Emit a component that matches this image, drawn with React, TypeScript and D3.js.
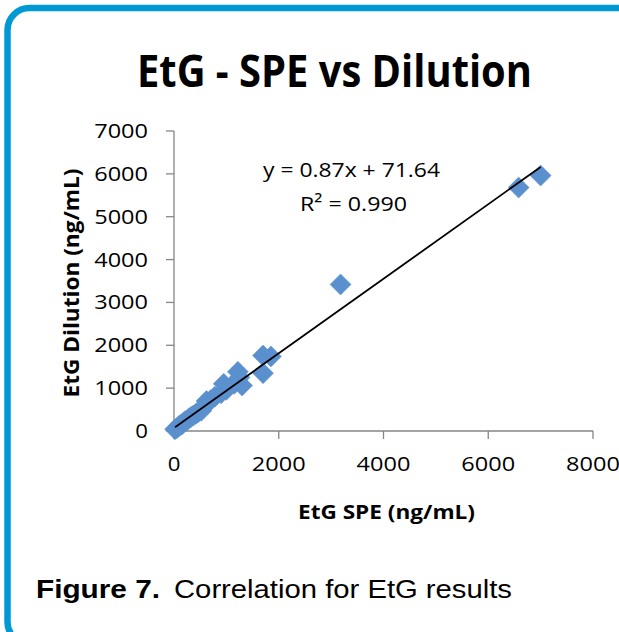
import React from 'react';
import * as d3 from 'd3';

// EtG results, SPE vs dilution (ng/mL)
const speValues = [20, 60, 90, 120, 150, 180, 210, 250, 290, 330, 370, 420, 460, 520, 560, 620, 700, 780, 900, 950, 1000, 1150, 1220, 1250, 1300, 1700, 1700, 1850, 3180, 6580, 7000];
const dilutionValues = [40, 70, 110, 140, 150, 190, 230, 250, 300, 330, 360, 400, 440, 470, 560, 700, 720, 800, 880, 1100, 960, 1100, 1380, 1250, 1060, 1760, 1350, 1740, 3420, 5680, 5960];

const xTicks = [0, 2000, 4000, 6000, 8000];
const yTicks = [0, 1000, 2000, 3000, 4000, 5000, 6000, 7000];

const trendSlope = 0.87;
const trendIntercept = 71.64;
const equationText = 'y = 0.87x + 71.64';
const r2Text = 'R² = 0.990';

const W = 619;
const H = 632;
const chartFont = '"Open Sans", sans-serif';
const captionFont = '"Liberation Sans", Arial, sans-serif';
const axisColor = '#868686';
const markerColor = '#5B90CF';

const App: React.FC = () => {
    const x = d3.scaleLinear().domain([0, 8000]).range([174, 593]);
    const y = d3.scaleLinear().domain([0, 7000]).range([431, 131]);

    const marker = d3.symbol().type(d3.symbolSquare).size(220)() as string;

    const xMin = d3.min(speValues) as number;
    const xMax = d3.max(speValues) as number;
    const trend = d3.line<number>()
        .x(d => x(d))
        .y(d => y(trendSlope * d + trendIntercept));

    const labelLen = (s: string) => s.length * 13.7 - 1;

    return (
        <svg width={W} height={H} style={{ position: 'absolute', left: 0, top: 0, background: '#fff' }}>
            {/* frame */}
            <rect x={7.5} y={8} width={700} height={636} rx={22} ry={22}
                fill="none" stroke="#0099D3" strokeWidth={6.5} />

            {/* title */}
            <text x={334.5} y={87} textAnchor="middle" fontFamily={chartFont} fontWeight={700}
                fontSize={45} textLength={395} lengthAdjust="spacingAndGlyphs" fill="#000">
                EtG - SPE vs Dilution
            </text>

            {/* axes */}
            <line x1={x(0)} x2={x(8000)} y1={y(0)} y2={y(0)} stroke={axisColor} strokeWidth={1.3} />
            <line x1={x(0)} x2={x(0)} y1={y(0)} y2={y(7000)} stroke={axisColor} strokeWidth={1.3} />
            {xTicks.map(t => (
                <g key={'x' + t}>
                    <line x1={x(t)} x2={x(t)} y1={y(0)} y2={y(0) + 8} stroke={axisColor} strokeWidth={1.3} />
                    <text x={x(t)} y={471} textAnchor="middle" fontFamily={chartFont} fontSize={20}
                        textLength={labelLen(String(t))} lengthAdjust="spacingAndGlyphs" fill="#000">
                        {t}
                    </text>
                </g>
            ))}
            {yTicks.map(t => (
                <g key={'y' + t}>
                    <line x1={x(0) - 8} x2={x(0)} y1={y(t)} y2={y(t)} stroke={axisColor} strokeWidth={1.3} />
                    <text x={148} y={y(t) + 7} textAnchor="end" fontFamily={chartFont} fontSize={20}
                        textLength={labelLen(String(t))} lengthAdjust="spacingAndGlyphs" fill="#000">
                        {t}
                    </text>
                </g>
            ))}

            {/* axis titles */}
            <text x={386.5} y={519} textAnchor="middle" fontFamily={chartFont} fontWeight={700}
                fontSize={19} textLength={177} lengthAdjust="spacingAndGlyphs" fill="#000">
                EtG SPE (ng/mL)
            </text>
            <text transform="translate(79,283) rotate(-90)" textAnchor="middle" fontFamily={chartFont}
                fontWeight={700} fontSize={21} textLength={229} lengthAdjust="spacingAndGlyphs" fill="#000">
                EtG Dilution (ng/mL)
            </text>

            {/* points */}
            {speValues.map((v, i) => (
                <path key={i} d={marker}
                    transform={`translate(${x(v)},${y(dilutionValues[i])}) rotate(45)`}
                    fill={markerColor} stroke={markerColor} strokeWidth={0.5} />
            ))}

            {/* trend line */}
            <path d={trend([xMin, xMax]) as string} fill="none" stroke="#000" strokeWidth={1.8} />

            {/* equation */}
            <text x={351.5} y={177} textAnchor="middle" fontFamily={chartFont} fontSize={20}
                textLength={177} lengthAdjust="spacingAndGlyphs" fill="#000">
                {equationText}
            </text>
            <text x={353.5} y={211} textAnchor="middle" fontFamily={chartFont} fontSize={20}
                textLength={107} lengthAdjust="spacingAndGlyphs" fill="#000">
                {r2Text}
            </text>

            {/* caption */}
            <text x={36} y={598} fontFamily={captionFont} fontWeight={700} fontSize={26}
                textLength={124} lengthAdjust="spacingAndGlyphs" fill="#000">
                Figure 7.
            </text>
            <text x={174} y={598} fontFamily={captionFont} fontSize={26}
                textLength={338} lengthAdjust="spacingAndGlyphs" fill="#000">
                Correlation for EtG results
            </text>
        </svg>
    );
};

export default App;
